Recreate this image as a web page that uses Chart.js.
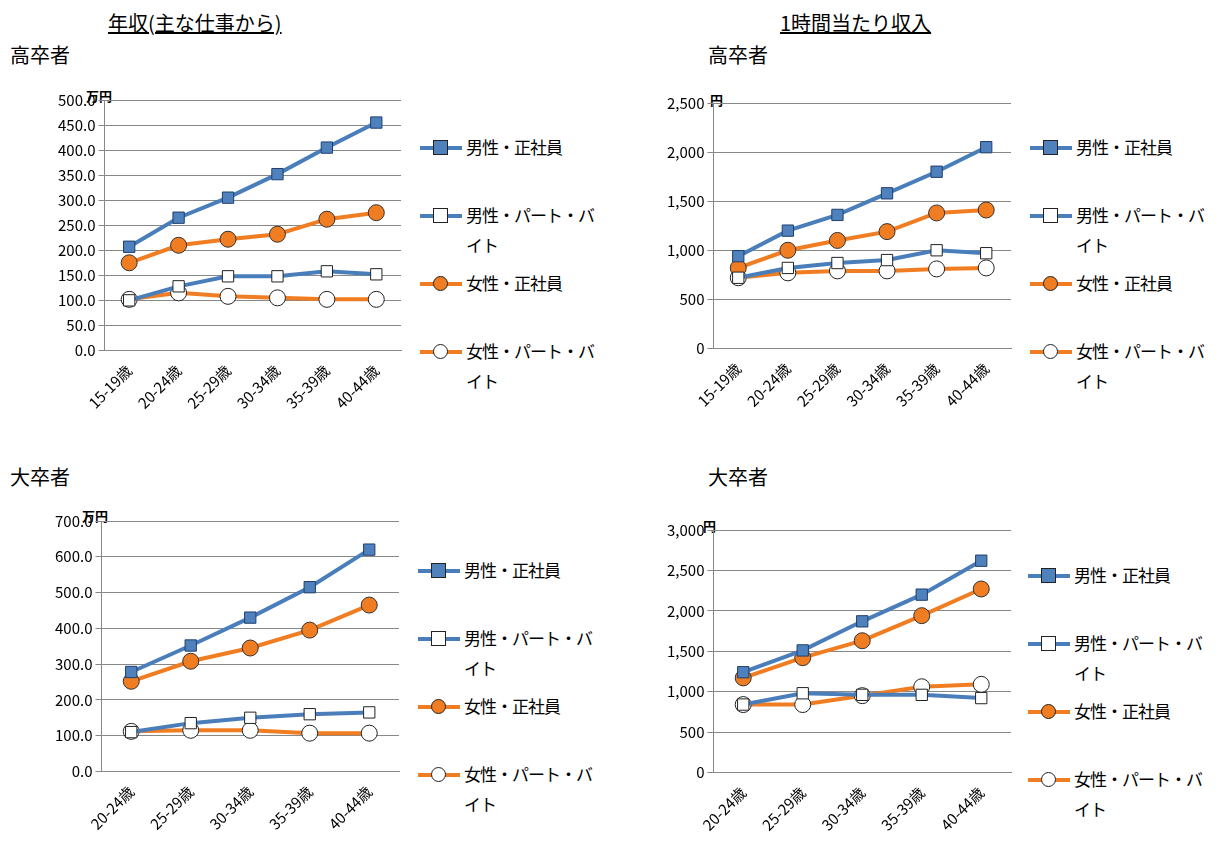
<!DOCTYPE html>
<html lang="ja">
<head>
<meta charset="UTF-8">
<title>年収と1時間当たり収入</title>
<script src="https://cdn.jsdelivr.net/npm/chart.js"></script>
<style>
  body { margin: 0; width: 1221px; height: 852px; background: #fff; font-family: "Noto Sans CJK JP", sans-serif; position: relative; overflow: hidden; }
  .t { position: absolute; font-size: 20px; color: #000; }
  .u { text-decoration: underline; }
  .box { position: absolute; }
  .unit { position: absolute; font-size: 13px; font-weight: bold; }
  .legend { position: absolute; font-size: 17px; line-height: 30px; letter-spacing: -1px; }
  .item { position: relative; padding-left: 46px; height: 68px; }
  .item .ln { position: absolute; left: 0; top: 14px; width: 42px; height: 4px; }
  .item .mk { position: absolute; left: 13px; top: 8px; width: 13px; height: 13px; border: 1px solid #222; }
</style>
</head>
<body>
<div class="t u" style="left:108px;top:8px;">年収(主な仕事から)</div>
<div class="t u" style="left:780px;top:8px;">1時間当たり収入</div>
<div class="t" style="left:10px;top:40px;">高卒者</div>
<div class="t" style="left:708px;top:40px;">高卒者</div>
<div class="t" style="left:10px;top:462px;">大卒者</div>
<div class="t" style="left:708px;top:462px;">大卒者</div>
<div class="unit" style="left:86px;top:86px;">万円</div>
<div class="unit" style="left:710px;top:90px;">円</div>
<div class="unit" style="left:82px;top:506px;">万円</div>
<div class="unit" style="left:703px;top:516px;">円</div>

<div class="box" style="left:0;top:88px;width:410px;height:327px;"><canvas id="c1"></canvas></div>
<div class="box" style="left:640px;top:91px;width:380px;height:322px;"><canvas id="c2"></canvas></div>
<div class="box" style="left:0;top:509px;width:408px;height:327px;"><canvas id="c3"></canvas></div>
<div class="box" style="left:640px;top:518px;width:380px;height:319px;"><canvas id="c4"></canvas></div>

<div class="legend" id="l1" style="left:420px;top:132px;"></div>
<div class="legend" id="l2" style="left:1030px;top:132px;"></div>
<div class="legend" id="l3" style="left:418px;top:555px;"></div>
<div class="legend" id="l4" style="left:1028px;top:560px;"></div>

<script>
// 高卒者
const labelsHigh = ['15-19歳', '20-24歳', '25-29歳', '30-34歳', '35-39歳', '40-44歳'];
// 大卒者
const labelsUniv = ['20-24歳', '25-29歳', '30-34歳', '35-39歳', '40-44歳'];

const seriesNames = ['男性・正社員', '男性・パート・バイト', '女性・正社員', '女性・パート・バイト'];

// 年収(万円) 高卒者
const highAnnualMaleReg = [207, 265, 305, 352, 405, 455];
const highAnnualMalePart = [100, 128, 148, 148, 158, 152];
const highAnnualFemaleReg = [175, 210, 222, 232, 262, 275];
const highAnnualFemalePart = [102, 115, 108, 105, 102, 102];

// 1時間当たり収入(円) 高卒者
const highHourlyMaleReg = [940, 1200, 1360, 1580, 1800, 2050];
const highHourlyMalePart = [720, 820, 870, 900, 1000, 970];
const highHourlyFemaleReg = [820, 1000, 1100, 1190, 1380, 1410];
const highHourlyFemalePart = [720, 770, 790, 790, 810, 820];

// 年収(万円) 大卒者
const univAnnualMaleReg = [278, 352, 430, 515, 620];
const univAnnualMalePart = [110, 135, 150, 160, 165];
const univAnnualFemaleReg = [252, 308, 345, 395, 465];
const univAnnualFemalePart = [112, 115, 115, 107, 107];

// 1時間当たり収入(円) 大卒者
const univHourlyMaleReg = [1240, 1510, 1870, 2200, 2620];
const univHourlyMalePart = [840, 980, 960, 960, 920];
const univHourlyFemaleReg = [1170, 1420, 1630, 1940, 2270];
const univHourlyFemalePart = [840, 840, 950, 1060, 1090];

const BLUE = '#4a7ebb', ORANGE = '#f07d22';
const styles = [
  { line: BLUE, fill: '#4f81bd', shape: 'rect', border: '#1f3f6f' },
  { line: BLUE, fill: '#ffffff', shape: 'rect', border: '#222' },
  { line: ORANGE, fill: ORANGE, shape: 'circle', border: '#333' },
  { line: ORANGE, fill: '#ffffff', shape: 'circle', border: '#222' }
];

function makeChart(id, labels, data, max, step, dec, padLeft) {
  new Chart(document.getElementById(id), {
    type: 'line',
    data: {
      labels: labels,
      datasets: data.map((d, i) => ({
        label: seriesNames[i],
        data: d,
        borderColor: styles[i].line,
        borderWidth: 4,
        backgroundColor: styles[i].fill,
        pointBackgroundColor: styles[i].fill,
        pointBorderColor: styles[i].border,
        pointBorderWidth: 1,
        pointStyle: styles[i].shape,
        pointRadius: 8,
        tension: 0
      }))
    },
    options: {
      responsive: true,
      maintainAspectRatio: false,
      animation: false,
      plugins: { legend: { display: false }, tooltip: { enabled: false } },
      layout: { padding: { top: 12, right: 4, left: padLeft } },
      scales: {
        x: {
          offset: true,
          grid: { display: false },
          border: { color: '#888' },
          ticks: { color: '#000', font: { family: 'Noto Sans CJK JP', size: 15 }, maxRotation: 45, minRotation: 45 }
        },
        y: {
          min: 0, max: max,
          grid: { color: '#888', tickLength: 6 },
          border: { color: '#888' },
          ticks: {
            stepSize: step, color: '#000',
            font: { family: 'Noto Sans CJK JP', size: 15 },
            callback: v => dec ? v.toFixed(1) : v.toLocaleString('en-US')
          }
        }
      }
    }
  });
}

function makeLegend(id) {
  const el = document.getElementById(id);
  el.innerHTML = seriesNames.map((n, i) => {
    const s = styles[i];
    const txt = n.length > 6 ? n.slice(0, 8) + '<br>' + n.slice(8) : n;
    return `<div class="item"><div class="ln" style="background:${s.line}"></div>` +
      `<div class="mk" style="background:${s.fill};border-radius:${s.shape === 'circle' ? '50%' : '0'}"></div>${txt}</div>`;
  }).join('');
}

makeChart('c1', labelsHigh, [highAnnualMaleReg, highAnnualMalePart, highAnnualFemaleReg, highAnnualFemalePart], 500, 50, true, 55);
makeChart('c2', labelsHigh, [highHourlyMaleReg, highHourlyMalePart, highHourlyFemaleReg, highHourlyFemalePart], 2500, 500, false, 24);
makeChart('c3', labelsUniv, [univAnnualMaleReg, univAnnualMalePart, univAnnualFemaleReg, univAnnualFemalePart], 700, 100, true, 52);
makeChart('c4', labelsUniv, [univHourlyMaleReg, univHourlyMalePart, univHourlyFemaleReg, univHourlyFemalePart], 3000, 500, false, 24);
['l1', 'l2', 'l3', 'l4'].forEach(makeLegend);
</script>
</body>
</html>
